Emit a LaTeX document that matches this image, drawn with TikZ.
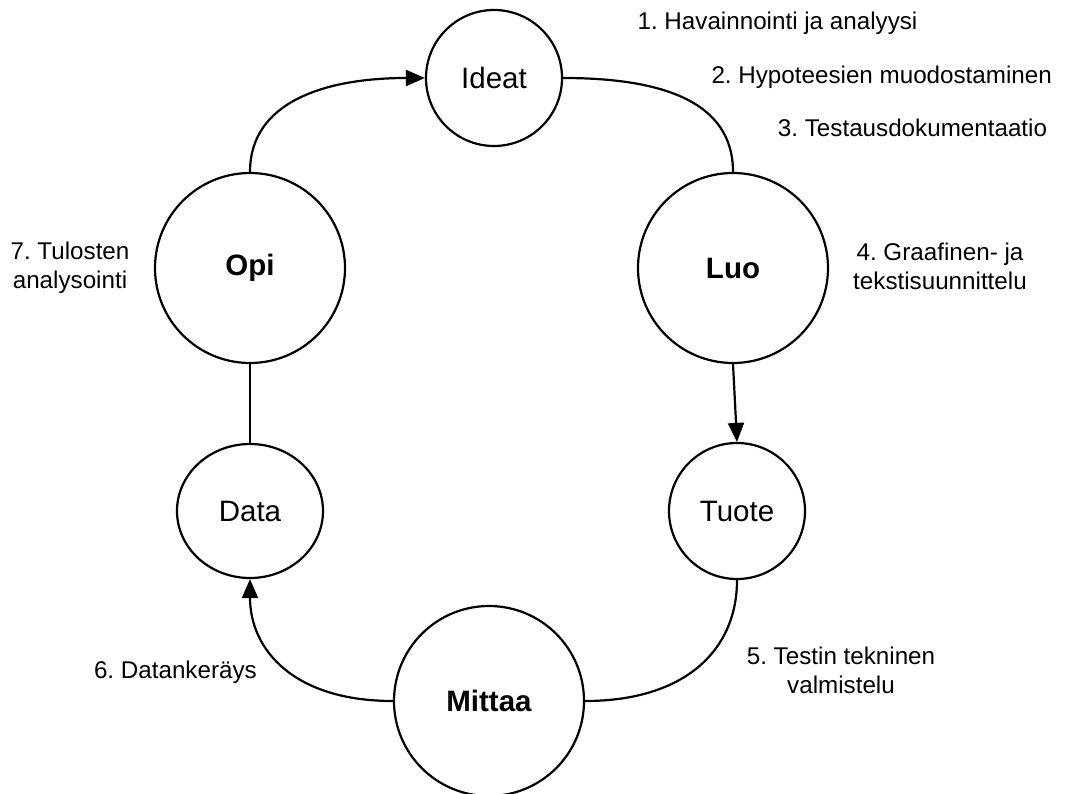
\documentclass[tikz,border=0pt]{standalone}
\usepackage{fontspec}
\setmainfont{Liberation Sans}
\frenchspacing
\usetikzlibrary{arrows.meta,shapes.geometric}
\begin{document}
\begin{tikzpicture}[x=1pt,y=-1pt,
  stage/.style={circle,draw=black,line width=2.2pt,inner sep=0pt,font=\fontsize{29.5}{34}\selectfont},
  bigstage/.style={stage,minimum size=190pt,font=\fontsize{29.5}{34}\selectfont\bfseries},
  smallstage/.style={stage,minimum size=136pt},
  conn/.style={draw=black,line width=2.2pt},
  arr/.style={conn,-{Triangle[length=19pt,width=16pt]}},
  lbl/.style={font=\fontsize{24.2}{29}\selectfont,align=center,inner sep=0pt}]
\useasboundingbox (0,0) rectangle (1067,794);
\node[smallstage] (ideat) at (494,78) {Ideat};
\node[bigstage] (luo) at (733,268) {Luo};
\node[smallstage] (tuote) at (737,511) {Tuote};
\node[bigstage] (mittaa) at (489,701) {Mittaa};
\node[stage,ellipse,minimum width=146pt,minimum height=134pt] (data) at (250,511) {Data};
\node[bigstage] (opi) at (250,268) {Opi};

\draw[arr] (opi.north) .. controls +(0,-70) and +(-100,0) .. (ideat.west);
\draw[conn] (ideat.east) .. controls +(100,0) and +(0,-70) .. (luo.north);
\draw[arr] (luo.south) -- (tuote.north);
\draw[conn] (tuote.south) .. controls +(0,70) and +(100,0) .. (mittaa.east);
\draw[arr] (mittaa.west) .. controls +(-100,0) and +(0,70) .. (data.south);
\draw[conn] (data.north) -- (opi.south);

\node[lbl,anchor=base] (l1) at (777.5,30) {1. Havainnointi ja analyysi};
\node[lbl,anchor=base] (l2) at (881.7,83.3) {2. Hypoteesien muodostaminen};
\node[lbl,anchor=base] (l3) at (912.5,136.7) {3. Testausdokumentaatio};
\node[lbl,anchor=base] (l4) at (940,289.3) {4. Graafinen- ja\\tekstisuunnittelu};
\node[lbl,anchor=base] (l5) at (841,693.3) {5. Testin tekninen\\valmistelu};
\node[lbl,anchor=base east] (l6) at (257,678.3) {6. Datankeräys};
\node[lbl,anchor=base] (l7) at (70,288.3) {7. Tulosten\\analysointi};
\end{tikzpicture}
\end{document}
